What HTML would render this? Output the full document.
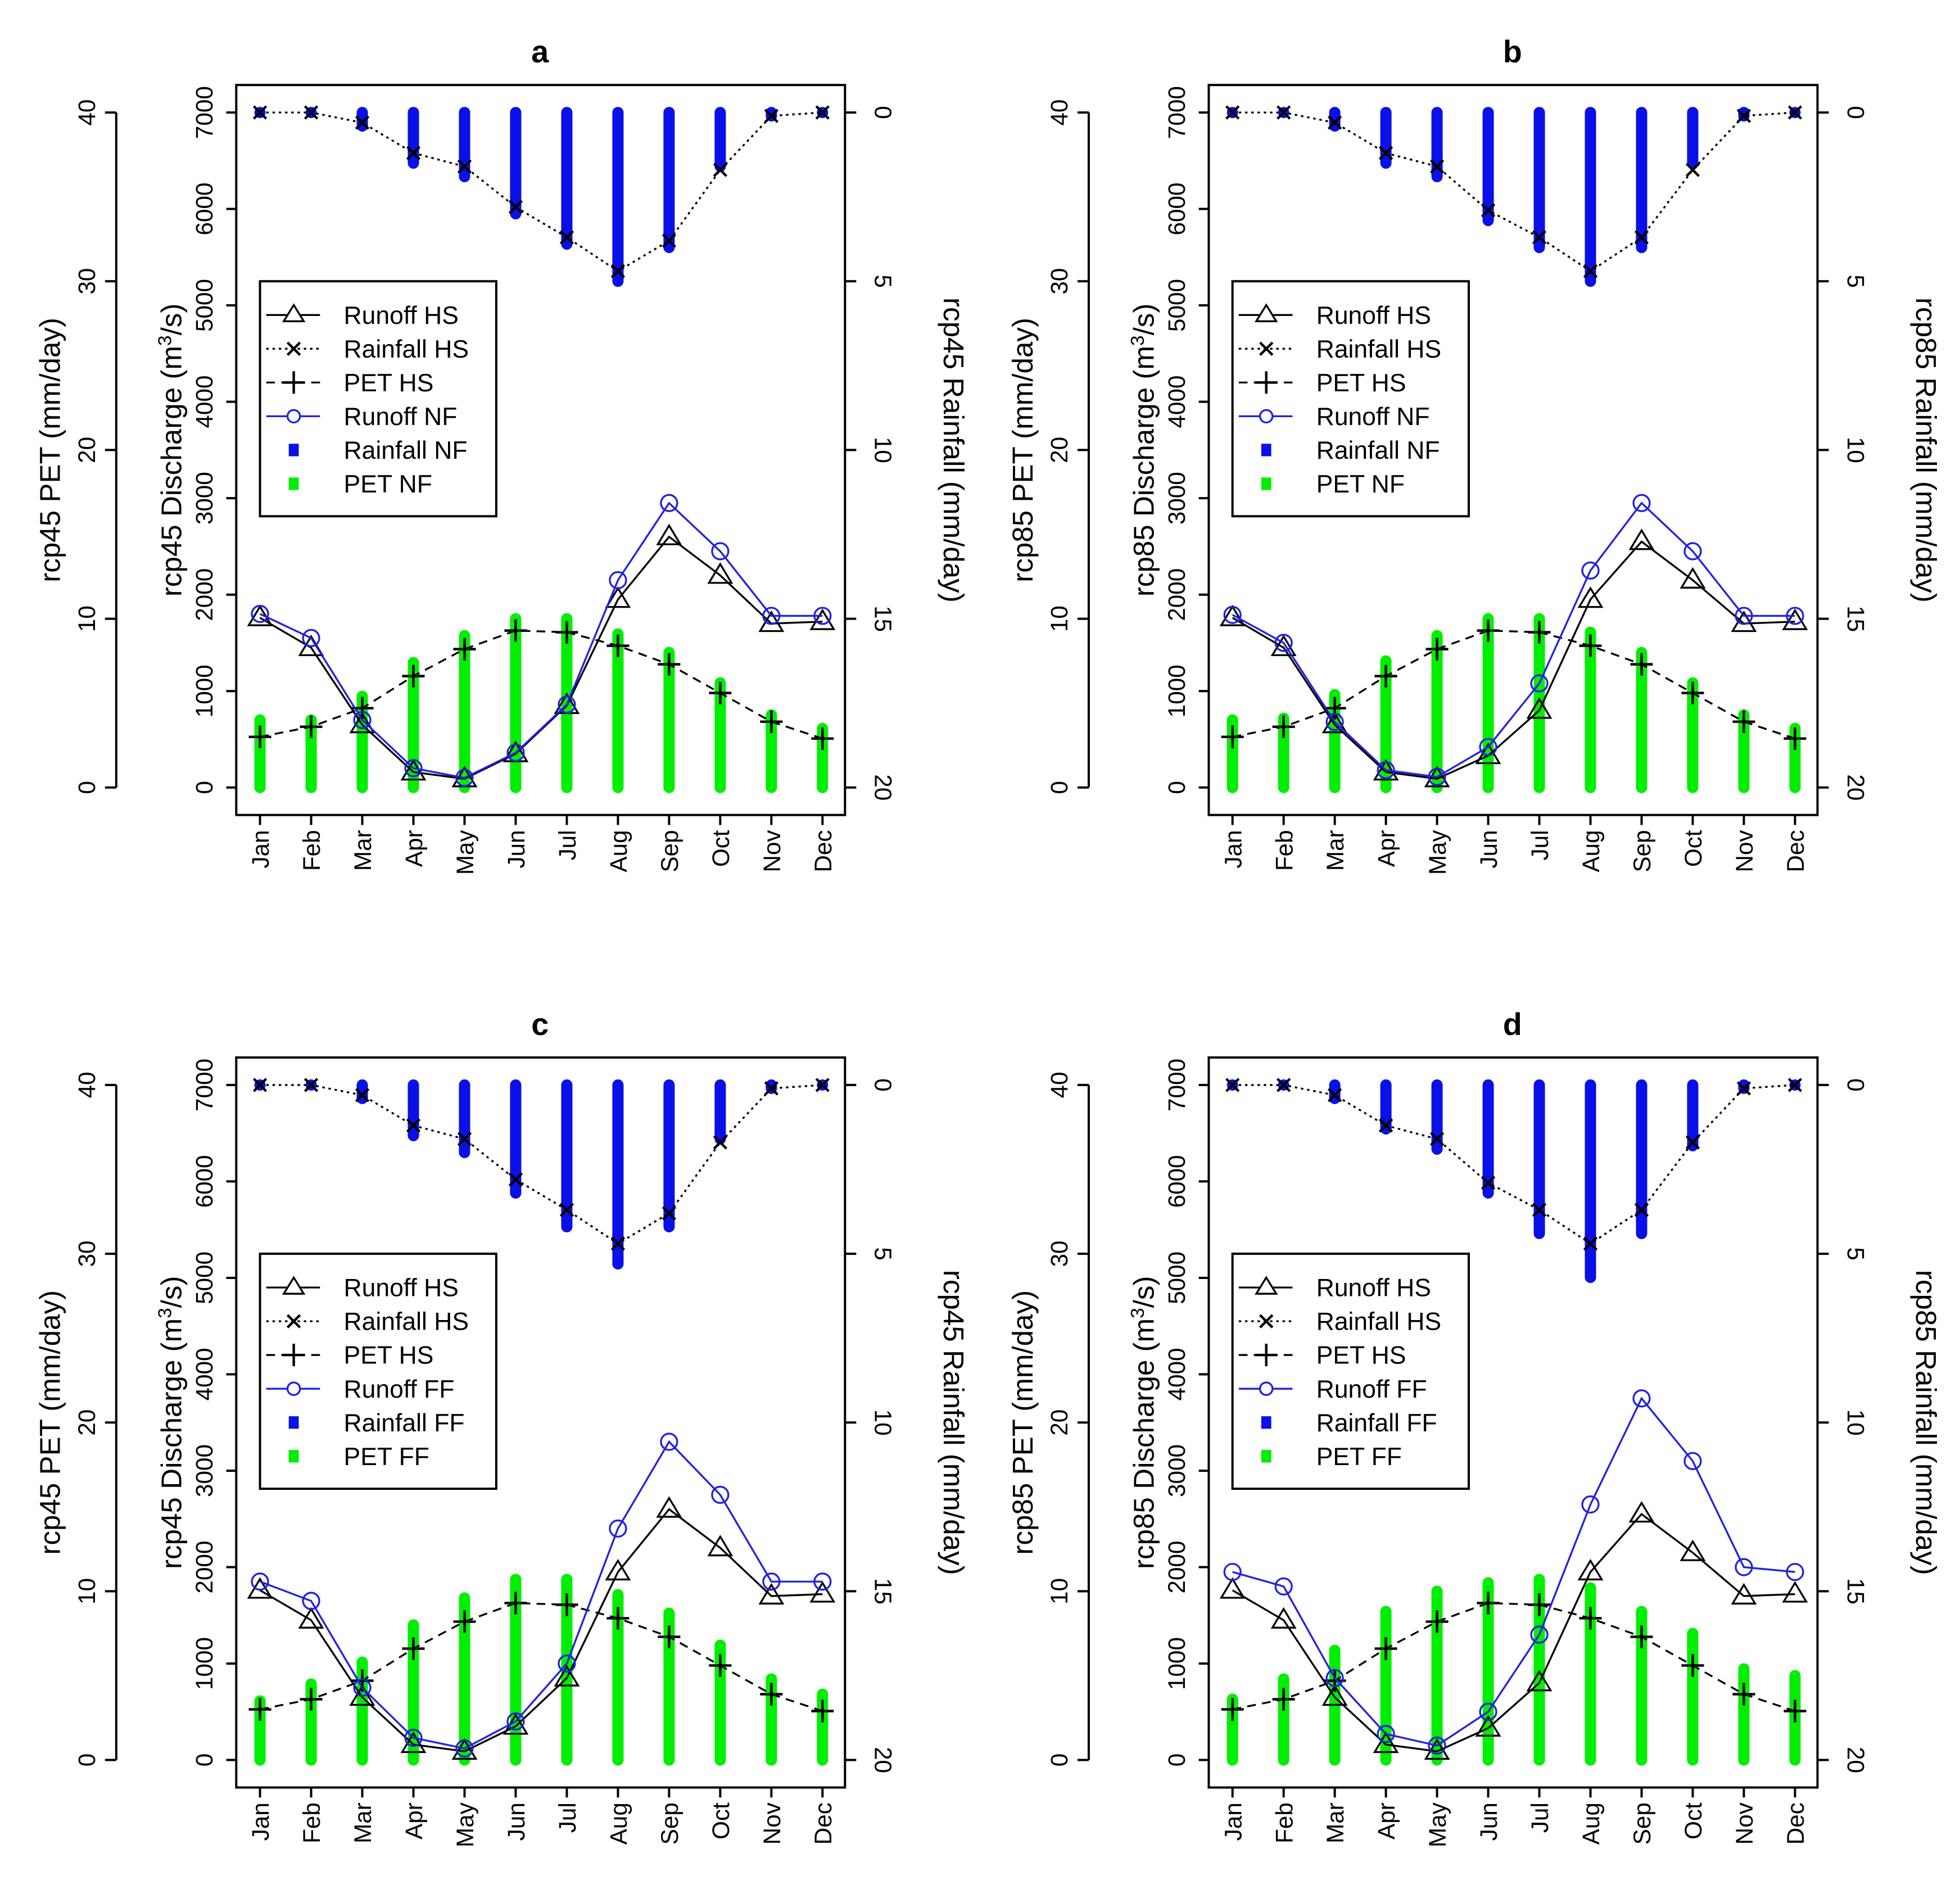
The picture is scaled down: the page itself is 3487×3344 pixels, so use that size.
<!DOCTYPE html>
<html><head><meta charset="utf-8">
<style>
html,body{margin:0;padding:0;background:#fff;}
svg{display:block;}
text{font-family:"Liberation Sans",Arial,sans-serif;fill:#000;}
</style></head>
<body>
<svg id="fig" xmlns="http://www.w3.org/2000/svg" width="3487" height="3344" viewBox="0 0 1568 1504" preserveAspectRatio="none"></svg>
<script>
const months = ["Jan","Feb","Mar","Apr","May","Jun","Jul","Aug","Sep","Oct","Nov","Dec"];
const dischargeTicks = [0,1000,2000,3000,4000,5000,6000,7000];
const petTicks = [0,10,20,30,40];
const rainTicks = [0,5,10,15,20];
const panelLetters = ["a","b","c","d"];
const scenarioNames = ["rcp45","rcp85","rcp45","rcp85"];
const futureNames = ["NF","NF","FF","FF"];
// Historical (HS) series
const runoffHS_a = [1760,1450,650,160,90,350,850,1950,2600,2200,1700,1720];
const runoffHS_b = [1760,1450,650,160,90,330,800,1950,2550,2150,1700,1720];
const rainHS_a = [0,0,0.3,1.2,1.6,2.8,3.7,4.7,3.8,1.7,0.1,0];
const rainHS_b = [0,0,0.3,1.2,1.6,2.9,3.7,4.7,3.7,1.7,0.1,0];
const petHS = [3.0,3.6,4.7,6.6,8.2,9.3,9.2,8.4,7.3,5.6,3.9,2.9];
// Future series
const runoffF_a = [1800,1550,700,200,100,360,860,2150,2950,2450,1780,1780];
const runoffF_b = [1790,1500,680,180,110,420,1080,2250,2950,2450,1780,1780];
const runoffF_c = [1850,1650,750,230,120,400,1000,2400,3300,2750,1850,1850];
const runoffF_d = [1950,1800,850,270,150,500,1300,2650,3750,3100,2000,1950];
const rainF_a = [0,0,0.4,1.5,1.9,3.0,3.9,5.0,4.0,1.6,0.1,0];
const rainF_b = [0,0,0.4,1.5,1.9,3.2,4.0,5.0,4.0,1.5,0.1,0];
const rainF_c = [0,0,0.4,1.5,2.0,3.2,4.2,5.3,4.2,1.6,0.1,0];
const rainF_d = [0,0,0.4,1.3,1.9,3.2,4.4,5.7,4.4,1.8,0.1,0];
const petF_a = [4.0,4.0,5.4,7.4,9.0,10.0,10.0,9.1,8.0,6.2,4.3,3.5];
const petF_b = [4.0,4.1,5.5,7.5,9.0,10.0,10.0,9.2,8.0,6.2,4.3,3.5];
const petF_c = [3.5,4.5,5.8,8.0,9.6,10.7,10.7,9.8,8.7,6.8,4.8,3.9];
const petF_d = [3.6,4.8,6.5,8.8,10.0,10.5,10.7,10.2,8.8,7.5,5.4,5.0];

const NS="http://www.w3.org/2000/svg";
const svg=document.getElementById('fig');
function mk(tag,attrs,parent){const e=document.createElementNS(NS,tag);for(const k in attrs)e.setAttribute(k,attrs[k]);(parent||svg).appendChild(e);return e;}

function drawPanel(idx,ox,oy,runoffHS,rainHS,runoffF,rainF,petF){
  const g=mk('g',{transform:`translate(${ox},${oy})`});
  
  
  const X=i=>208+i*(450/11);
  const YQ=v=>630-v*(540/7000);
  const YP=v=>630-v*(540/40);
  const YR=v=>90+v*27;
  const sc=scenarioNames[idx], fn=futureNames[idx];
  let t=mk('text',{x:432,y:50,'text-anchor':'middle','font-size':25,'font-weight':'bold'},g);t.textContent=panelLetters[idx];
  
  let b=mk('rect',{x:189,y:68,width:487,height:584,fill:'none',stroke:'#000','stroke-width':1.8},g);
  
  const pa=mk('g',{},g);
  mk('line',{x1:93,y1:YP(0),x2:93,y2:YP(40),stroke:'#000','stroke-width':1.8},pa);
  petTicks.forEach(v=>{mk('line',{x1:84,y1:YP(v),x2:93,y2:YP(v),stroke:'#000','stroke-width':1.8},pa);
    const tt=mk('text',{x:0,y:0,'font-size':19,'text-anchor':'middle',transform:`translate(76,${YP(v)}) rotate(-90)`},pa);tt.textContent=v;});
  t=mk('text',{'font-size':23,'text-anchor':'middle',transform:`translate(48,360) rotate(-90)`},g);t.textContent=sc+' PET (mm/day)';
  
  const da=mk('g',{},g);
  dischargeTicks.forEach(v=>{mk('line',{x1:181,y1:YQ(v),x2:189,y2:YQ(v),stroke:'#000','stroke-width':1.8},da);
    const tt=mk('text',{'font-size':19,'text-anchor':'middle',transform:`translate(170,${YQ(v)}) rotate(-90)`},da);tt.textContent=v;});
  t=mk('text',{'font-size':23,'text-anchor':'middle',transform:`translate(145,360) rotate(-90)`},g);
  t.innerHTML=sc+' Discharge (m<tspan dy="-8" font-size="15">3</tspan><tspan dy="8">/s)</tspan>';
  
  const ra=mk('g',{},g);
  rainTicks.forEach(v=>{mk('line',{x1:676,y1:YR(v),x2:685,y2:YR(v),stroke:'#000','stroke-width':1.8},ra);
    const tt=mk('text',{'font-size':19,'text-anchor':'middle',transform:`translate(700,${YR(v)}) rotate(90)`},ra);tt.textContent=v;});
  t=mk('text',{'font-size':23,'text-anchor':'middle',transform:`translate(755,360) rotate(90)`},g);t.textContent=sc+' Rainfall (mm/day)';
  
  const xa=mk('g',{},g);
  months.forEach((m,i)=>{mk('line',{x1:X(i),y1:652,x2:X(i),y2:660,stroke:'#000','stroke-width':1.8},xa);
    const tt=mk('text',{'font-size':19,'text-anchor':'end',transform:`translate(${X(i)+7},664) rotate(-90)`},xa);tt.textContent=m;});
  petF.forEach((v,i)=>{const l=mk('line',{x1:X(i),y1:YP(0),x2:X(i),y2:YP(v),stroke:'#00ee00','stroke-width':9,'stroke-linecap':'round'},g);
    });
  rainF.forEach((v,i)=>{const l=mk('line',{x1:X(i),y1:YR(0),x2:X(i),y2:YR(v),stroke:'#0a10e8','stroke-width':9,'stroke-linecap':'round'},g);
    });
  let p=mk('polyline',{points:rainHS.map((v,i)=>X(i)+','+YR(v)).join(' '),fill:'none',stroke:'#000','stroke-width':1.5,'stroke-dasharray':'2,3'},g);
  
  rainHS.forEach((v,i)=>{const x=X(i),y=YR(v);mk('path',{d:`M${x-5},${y-5}L${x+5},${y+5}M${x-5},${y+5}L${x+5},${y-5}`,stroke:'#000','stroke-width':2},g);});
  p=mk('polyline',{points:petHS.map((v,i)=>X(i)+','+YP(v)).join(' '),fill:'none',stroke:'#000','stroke-width':1.5,'stroke-dasharray':'7,5'},g);
  
  petHS.forEach((v,i)=>{const x=X(i),y=YP(v);mk('path',{d:`M${x-9},${y}L${x+9},${y}M${x},${y-9}L${x},${y+9}`,stroke:'#000','stroke-width':2},g);});
  p=mk('polyline',{points:runoffHS.map((v,i)=>X(i)+','+YQ(v)).join(' '),fill:'none',stroke:'#000','stroke-width':1.5},g);
  
  runoffHS.forEach((v,i)=>{const x=X(i),y=YQ(v);mk('path',{d:`M${x},${y-9}L${x+9},${y+6}L${x-9},${y+6}Z`,fill:'none',stroke:'#000','stroke-width':1.5},g);});
  p=mk('polyline',{points:runoffF.map((v,i)=>X(i)+','+YQ(v)).join(' '),fill:'none',stroke:'#2222dd','stroke-width':1.5},g);
  
  runoffF.forEach((v,i)=>{mk('circle',{cx:X(i),cy:YQ(v),r:6.5,fill:'none',stroke:'#2222dd','stroke-width':1.5},g);});
  const lg=mk('g',{},g);
  mk('rect',{x:208,y:225,width:189,height:188,fill:'#fff',stroke:'#000','stroke-width':1.8},lg);
  const labels=['Runoff HS','Rainfall HS','PET HS','Runoff '+fn,'Rainfall '+fn,'PET '+fn];
  labels.forEach((lab,k)=>{const y=252+k*27, mx=235;
    const e=mk('g',{},lg);
    if(k===0){mk('line',{x1:213,y1:y,x2:256,y2:y,stroke:'#000','stroke-width':1.5},e);mk('path',{d:`M${mx},${y-8}L${mx+8},${y+5}L${mx-8},${y+5}Z`,fill:'#fff',stroke:'#000','stroke-width':1.5},e);}
    if(k===1){mk('line',{x1:213,y1:y,x2:256,y2:y,stroke:'#000','stroke-width':1.5,'stroke-dasharray':'2,3'},e);mk('path',{d:`M${mx-5},${y-5}L${mx+5},${y+5}M${mx-5},${y+5}L${mx+5},${y-5}`,stroke:'#000','stroke-width':2},e);}
    if(k===2){mk('line',{x1:213,y1:y,x2:256,y2:y,stroke:'#000','stroke-width':1.5,'stroke-dasharray':'7,5'},e);mk('path',{d:`M${mx-9},${y}L${mx+9},${y}M${mx},${y-9}L${mx},${y+9}`,stroke:'#000','stroke-width':2},e);}
    if(k===3){mk('line',{x1:213,y1:y,x2:256,y2:y,stroke:'#2222dd','stroke-width':1.5},e);mk('circle',{cx:mx,cy:y,r:5,fill:'#fff',stroke:'#2222dd','stroke-width':1.5},e);}
    if(k===4){mk('rect',{x:mx-4,y:y-5,width:8,height:10,fill:'#0a10e8'},e);}
    if(k===5){mk('rect',{x:mx-4,y:y-5,width:8,height:10,fill:'#00ee00'},e);}
    const tt=mk('text',{x:275,y:y+7,'font-size':20},e);tt.textContent=lab;});
}
drawPanel(0,0,0,runoffHS_a,rainHS_a,runoffF_a,rainF_a,petF_a);
drawPanel(1,778,0,runoffHS_b,rainHS_b,runoffF_b,rainF_b,petF_b);
drawPanel(2,0,778,runoffHS_a,rainHS_a,runoffF_c,rainF_c,petF_c);
drawPanel(3,778,778,runoffHS_b,rainHS_b,runoffF_d,rainF_d,petF_d);
</script>
</body></html>
